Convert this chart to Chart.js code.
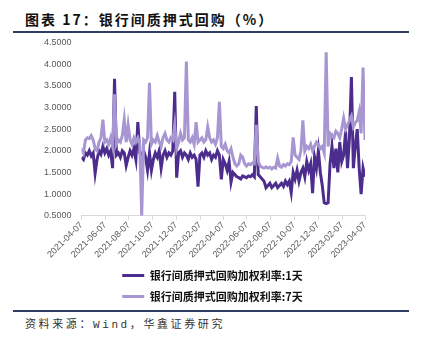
<!DOCTYPE html>
<html>
<head>
<meta charset="utf-8">
<script src="https://cdn.jsdelivr.net/npm/chart.js@4.4.1/dist/chart.umd.min.js"></script>
<style>
  html, body { margin: 0; padding: 0; background: #ffffff; }
  body { width: 424px; height: 348px; position: relative; overflow: hidden; }
  #title {
    position: absolute; left: 25px; top: 9px;
    font-family: "Noto Sans CJK SC", sans-serif; font-weight: bold;
    font-size: 14px; letter-spacing: 2px; color: #111111; white-space: nowrap;
  }
  .rule { position: absolute; left: 13px; width: 396px; height: 2px; background: #2f3d62; z-index: 2; }
  #source {
    position: absolute; left: 25px; top: 315px;
    font-family: "Liberation Mono", "Noto Sans CJK SC", monospace;
    font-size: 11px; letter-spacing: 2.6px; color: #333333; white-space: nowrap;
  }
  #source .cjk { font-family: "Noto Sans CJK SC", sans-serif; }
  #wrap { position: absolute; left: 32px; top: 27px; width: 350px; height: 285px; }
</style>
</head>
<body>
<div id="title">图表 17：银行间质押式回购（%）</div>
<div class="rule" style="top:31px"></div>
<div id="wrap"><canvas id="chart" width="350" height="285"></canvas></div>
<div class="rule" style="top:310px"></div>
<div id="source"><span class="cjk">资料来源：</span>Wind<span class="cjk">，华鑫证券研究</span></div>

<script>
// Sampling: one observation every 5 days starting 2021-04-07
const startDate = '2021-04-07';
const stepDays = 5;

// Date labels placed on the x axis
const tickDates = ['2021-04-07', '2021-06-07', '2021-08-07', '2021-10-07', '2021-12-07',
  '2022-02-07', '2022-04-07', '2022-06-07', '2022-08-07', '2022-10-07', '2022-12-07',
  '2023-02-07', '2023-04-07'];

const seriesNames = ['银行间质押式回购加权利率:1天', '银行间质押式回购加权利率:7天'];

// Weighted interbank pledged repo rate, overnight (%)
const rate1d = [
  1.85, 1.80, 1.95, 1.90, 2.00, 1.88, 1.95, 1.48, 1.80, 2.00,
  1.92, 2.10, 1.95, 2.05, 1.90, 2.00, 1.60, 3.66, 1.90, 1.95,
  1.85, 2.00, 1.95, 1.66, 1.85, 2.00, 1.90, 2.05, 1.80, 2.66,
  1.95, 1.90, 2.00, 1.85, 1.55, 1.95, 1.55, 1.80, 1.95, 1.85,
  2.00, 1.60, 1.90, 2.00, 1.85, 1.95, 1.90, 2.00, 3.36, 1.38,
  1.95, 2.00, 1.85, 1.95, 1.90, 1.80, 1.95, 1.85, 1.90, 1.80,
  1.17, 1.90, 1.95, 1.85, 2.00, 1.90, 1.95, 1.80, 1.90, 1.85,
  2.00, 1.90, 1.34, 1.80, 1.70, 1.55, 1.75, 1.28, 1.50, 1.45,
  1.40, 1.38, 1.35, 1.42, 1.40, 1.38, 1.42, 1.40, 1.45, 1.40,
  3.03, 1.45, 1.40, 1.35, 1.30, 1.15, 1.20, 1.25, 1.15, 1.20,
  1.25, 1.15, 1.20, 1.25, 1.18, 1.30, 1.22, 1.30, 1.04, 1.50,
  1.35, 1.55, 1.30, 1.50, 1.60, 1.40, 1.75, 1.55, 1.70, 1.02,
  1.85, 1.60, 2.00, 1.50, 1.20, 0.80, 0.78, 0.80, 1.70, 2.10,
  1.60, 2.05, 1.50, 2.20, 1.75, 1.90, 2.45, 1.60, 2.30, 3.70,
  1.60, 2.10, 2.50, 1.60, 1.00, 1.60, 1.40
];

// Weighted interbank pledged repo rate, 7 days (%)
const rate7d = [
  2.05, 1.95, 2.25, 2.30, 2.28, 2.35, 2.25, 2.05, 2.00, 2.20,
  2.30, 2.72, 2.20, 2.25, 2.15, 2.30, 2.10, 3.30, 2.15, 2.25,
  2.20, 2.35, 2.72, 2.20, 2.60, 2.25, 2.15, 2.30, 2.20, 2.30,
  2.15, 0.50, 2.25, 2.20, 2.30, 3.57, 2.15, 2.25, 2.20, 2.35,
  2.20, 2.10, 2.30, 2.40, 2.25, 2.20, 2.30, 2.25, 2.60, 2.05,
  2.20, 2.40, 2.25, 2.30, 4.06, 2.25, 2.20, 2.30, 2.15, 2.66,
  2.20, 2.25, 2.30, 2.20, 2.25, 2.55, 2.30, 2.20, 2.25, 2.15,
  2.30, 3.13, 2.10, 2.05, 2.15, 2.00, 1.95, 2.05, 1.85, 1.70,
  1.65, 1.70, 1.90, 1.85, 1.70, 1.65, 1.70, 1.68, 1.72, 1.70,
  2.60, 1.75, 1.65, 1.62, 1.60, 1.63, 1.60, 1.62, 1.58, 1.62,
  1.60, 1.83, 1.65, 1.62, 1.68, 1.65, 1.70, 1.68, 1.75, 2.31,
  1.90, 1.85, 1.80, 2.00, 2.70, 2.00, 2.10, 2.05, 2.15, 2.00,
  2.10, 2.20, 2.15, 2.05, 2.10, 1.95, 4.27, 2.10, 2.40, 2.35,
  2.30, 2.45, 2.40, 2.30, 2.50, 2.75, 2.50, 2.60, 2.70, 2.80,
  2.55, 2.65, 2.70, 2.90, 2.40, 3.92, 2.25
];

// Y axis range and step (%)
const yMin = 0.5;
const yMax = 4.5;
const yStep = 0.5;

const DAY_MS = 86400000;
const dayOffset = s => Math.round((Date.parse(s + 'T00:00:00Z') - Date.parse(startDate + 'T00:00:00Z')) / DAY_MS);
const tickDays = tickDates.map(dayOffset);
const toPoints = arr => arr.map((v, i) => ({ x: i * stepDays, y: v }));

const axisFont = { family: 'Liberation Sans, Arial, sans-serif', size: 9 };

// Nudges the legend block sideways after layout so it sits under the plot centre
const legendShift = {
  id: 'legendShift',
  afterLayout(chart, args, opts) {
    const lg = chart.legend;
    if (lg) { lg.left += opts.dx; lg.right += opts.dx; }
  }
};

new Chart(document.getElementById('chart'), {
  type: 'line',
  data: {
    datasets: [
      {
        label: seriesNames[0],
        data: toPoints(rate1d),
        borderColor: '#4c2c8c',
        backgroundColor: '#4c2c8c',
        borderWidth: 3,
        pointRadius: 0,
        tension: 0,
        order: 1
      },
      {
        label: seriesNames[1],
        data: toPoints(rate7d),
        borderColor: '#a796d2',
        backgroundColor: '#a796d2',
        borderWidth: 3,
        pointRadius: 0,
        tension: 0,
        order: 0
      }
    ]
  },
  plugins: [legendShift],
  options: {
    responsive: false,
    animation: false,
    layout: { padding: { left: 2, right: 17, top: 2, bottom: 0 } },
    scales: {
      x: {
        type: 'linear',
        min: tickDays[0],
        max: tickDays[tickDays.length - 1],
        afterBuildTicks: axis => { axis.ticks = tickDays.map(v => ({ value: v })); },
        grid: { display: true, drawOnChartArea: false, drawTicks: true, tickLength: 4, color: '#d9d9d9' },
        border: { display: true, color: '#d9d9d9' },
        ticks: {
          autoSkip: false,
          minRotation: 45,
          maxRotation: 45,
          padding: 0,
          color: '#595959',
          font: axisFont,
          callback: v => { const k = tickDays.indexOf(v); return k >= 0 ? tickDates[k] : ''; }
        }
      },
      y: {
        min: yMin,
        max: yMax,
        grid: { display: false, drawTicks: false },
        border: { display: false },
        ticks: {
          stepSize: yStep,
          padding: 10,
          color: '#595959',
          font: axisFont,
          callback: v => Number(v).toFixed(4)
        }
      }
    },
    plugins: {
      legendShift: { dx: 13 },
      legend: {
        position: 'bottom',
        labels: {
          usePointStyle: true,
          pointStyle: 'line',
          pointStyleWidth: 22,
          boxHeight: 3,
          padding: 10,
          color: '#111111',
          font: { family: 'Noto Sans CJK SC, sans-serif', size: 11, weight: 'bold' },
          sort: (a, b) => a.datasetIndex - b.datasetIndex
        }
      },
      tooltip: { enabled: false }
    }
  }
});
</script>
</body>
</html>
